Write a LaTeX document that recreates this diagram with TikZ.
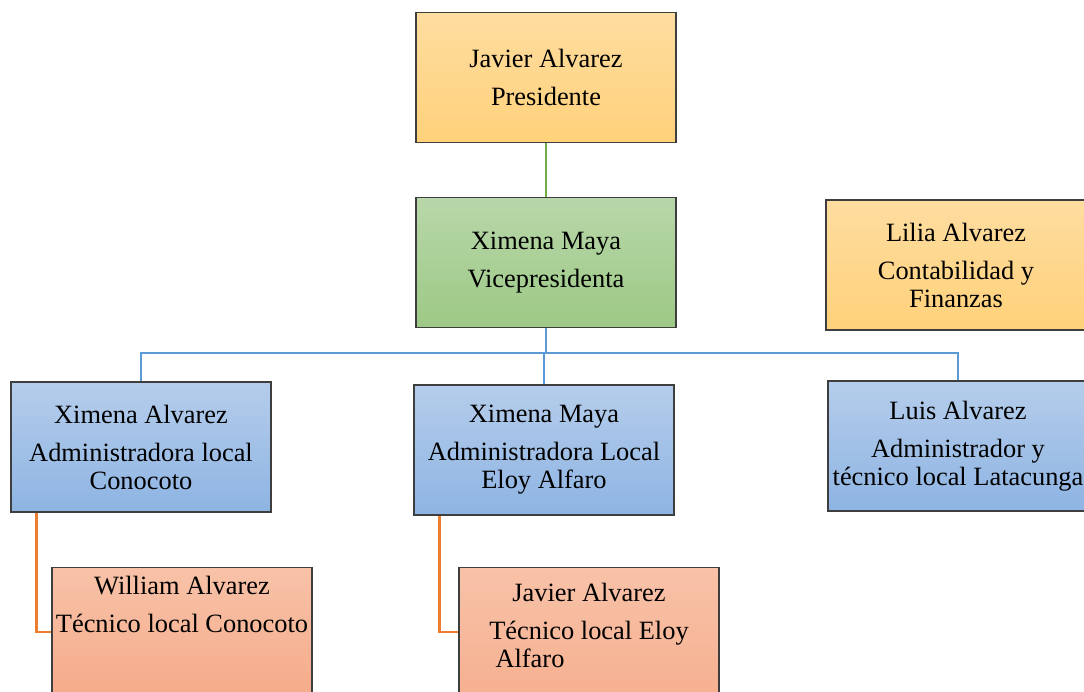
\documentclass[tikz,border=0pt]{standalone}
\usepackage{fontspec}
\setmainfont{Liberation Serif}
\usepackage{xcolor}
\definecolor{goldtop}{RGB}{254,221,160}
\definecolor{goldbot}{RGB}{255,209,122}
\definecolor{greentop}{RGB}{184,215,170}
\definecolor{greenbot}{RGB}{157,201,133}
\definecolor{bluetop}{RGB}{181,205,235}
\definecolor{bluebot}{RGB}{142,180,227}
\definecolor{salmontop}{RGB}{248,194,168}
\definecolor{salmonbot}{RGB}{244,165,130}
\definecolor{boxline}{RGB}{62,62,62}
\definecolor{linegreen}{RGB}{112,173,71}
\definecolor{lineblue}{RGB}{91,155,213}
\definecolor{lineorange}{RGB}{237,125,49}
\usepackage{tikz}
\usetikzlibrary{positioning,calc}
\tikzset{
  member/.style={rectangle,draw=boxline,line width=0.6pt,align=center,minimum width=130pt,minimum height=65pt,inner sep=2pt,font=\fontsize{13.2}{14}\selectfont},
  chief/.style={member,top color=goldtop,bottom color=goldbot},
  deputy/.style={member,top color=greentop,bottom color=greenbot},
  admin/.style={member,top color=bluetop,bottom color=bluebot},
  tech/.style={member,top color=salmontop,bottom color=salmonbot,anchor=north,minimum height=0pt,text depth=46pt},
  rank1/.style={line width=1pt,draw=linegreen},
  rank2/.style={line width=1.2pt,draw=lineblue},
  rank3/.style={line width=1.1pt,draw=lineorange}
}

\begin{document}
\begin{tikzpicture}[x=0.5pt,y=-0.5pt]
  \useasboundingbox (0,0) rectangle (1084,692);
  \clip (0,0) rectangle (1084,692);

  \node[chief] (pres) at (546,77.5) {Javier Alvarez\\[5pt]Presidente};
  \node[deputy] (vice) at (546,262.5) {Ximena Maya\\[5pt]Vicepresidenta};
  \node[chief] (conta) at (956,265) {Lilia Alvarez\\[5pt]Contabilidad y\\Finanzas};

  \node[admin] (admC) at (141,447) {Ximena Alvarez\\[5pt]Administradora local\\Conocoto};
  \node[admin] (admE) at (544,450) {Ximena Maya\\[5pt]Administradora Local\\Eloy Alfaro};
  \node[admin] (admL) at (958,446) {Luis Alvarez\\[5pt]Administrador y\\técnico local Latacunga};

  \node[tech,inner ysep=4.1pt] (tecC) at (182,567) {William Alvarez\\[5pt]Técnico local Conocoto};
  \node[tech,inner ysep=7.6pt] (tecE) at (589,567) {Javier Alvarez\\[5pt]Técnico local Eloy\\Alfaro\hspace*{59pt}};

  \draw[rank1] (pres) -- (vice);
  \coordinate (hub) at ($(vice.south)+(0,25)$);
  \draw[rank2] (vice.south) -- (hub) -| (admC.north);
  \draw[rank2] (hub) -| (admE.north);
  \draw[rank2] (hub) -| (admL.north);
  \draw[rank3] ($(admC.south west)+(26,0)$) |- ($(tecC.north west)+(0,65)$);
  \draw[rank3] ($(admE.south west)+(26,0)$) |- ($(tecE.north west)+(0,65)$);
\end{tikzpicture}
\end{document}
